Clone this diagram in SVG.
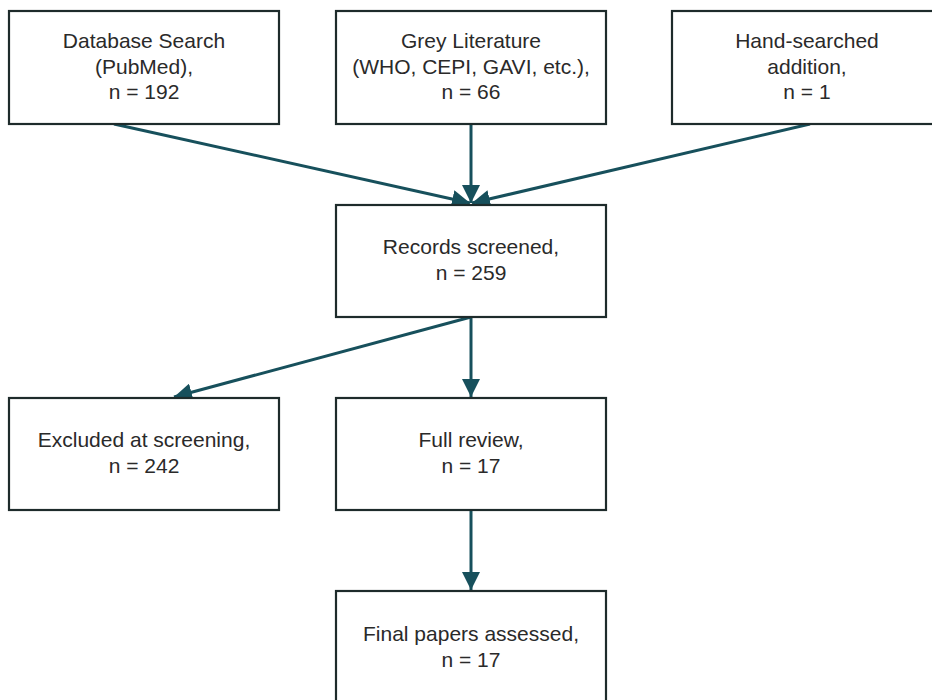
<svg xmlns="http://www.w3.org/2000/svg" width="932" height="700" viewBox="0 0 932 700">
<defs>
<style>
.box{fill:#ffffff;stroke:#1e2b2b;stroke-width:2.2}
.t{font-family:"Liberation Sans",Arial,sans-serif;font-size:21px;fill:#2a2a2a;text-anchor:middle}
.c{stroke:#17505c;stroke-width:3;fill:none}
</style>
<marker id="ah" viewBox="0 0 10 10" refX="10" refY="5" markerWidth="6" markerHeight="6" markerUnits="strokeWidth" orient="auto">
<path d="M0,0 L10,5 L0,10 Z" fill="#17505c"/>
</marker>
</defs>
<rect width="932" height="700" fill="#ffffff"/>
<g id="connectors">
<line class="c" x1="114" y1="124" x2="470" y2="203" marker-end="url(#ah)"/>
<line class="c" x1="471" y1="124" x2="471" y2="203" marker-end="url(#ah)"/>
<line class="c" x1="810" y1="124" x2="472" y2="203" marker-end="url(#ah)"/>
<line class="c" x1="471" y1="317" x2="174" y2="397" marker-end="url(#ah)"/>
<line class="c" x1="471" y1="317" x2="471" y2="397" marker-end="url(#ah)"/>
<line class="c" x1="471" y1="510" x2="471" y2="590" marker-end="url(#ah)"/>
</g>
<g id="db">
<rect class="box" x="9" y="11" width="270" height="113"/>
<text class="t" x="144" y="48">Database Search</text>
<text class="t" x="144" y="74">(PubMed),</text>
<text class="t" x="144" y="99">n = 192</text>
</g>
<g id="grey">
<rect class="box" x="336" y="11" width="270" height="113"/>
<text class="t" x="471" y="48">Grey Literature</text>
<text class="t" x="471" y="74">(WHO, CEPI, GAVI, etc.),</text>
<text class="t" x="471" y="99">n = 66</text>
</g>
<g id="hand">
<rect class="box" x="672" y="11" width="270" height="113"/>
<text class="t" x="807" y="48">Hand-searched</text>
<text class="t" x="807" y="74">addition,</text>
<text class="t" x="807" y="99">n = 1</text>
</g>
<g id="screened">
<rect class="box" x="336" y="205" width="270" height="112"/>
<text class="t" x="471" y="254">Records screened,</text>
<text class="t" x="471" y="280">n = 259</text>
</g>
<g id="excluded">
<rect class="box" x="9" y="398" width="270" height="112"/>
<text class="t" x="144" y="447">Excluded at screening,</text>
<text class="t" x="144" y="473">n = 242</text>
</g>
<g id="full">
<rect class="box" x="336" y="398" width="270" height="112"/>
<text class="t" x="471" y="447">Full review,</text>
<text class="t" x="471" y="473">n = 17</text>
</g>
<g id="final">
<rect class="box" x="336" y="591" width="270" height="112"/>
<text class="t" x="471" y="641">Final papers assessed,</text>
<text class="t" x="471" y="667">n = 17</text>
</g>
</svg>
